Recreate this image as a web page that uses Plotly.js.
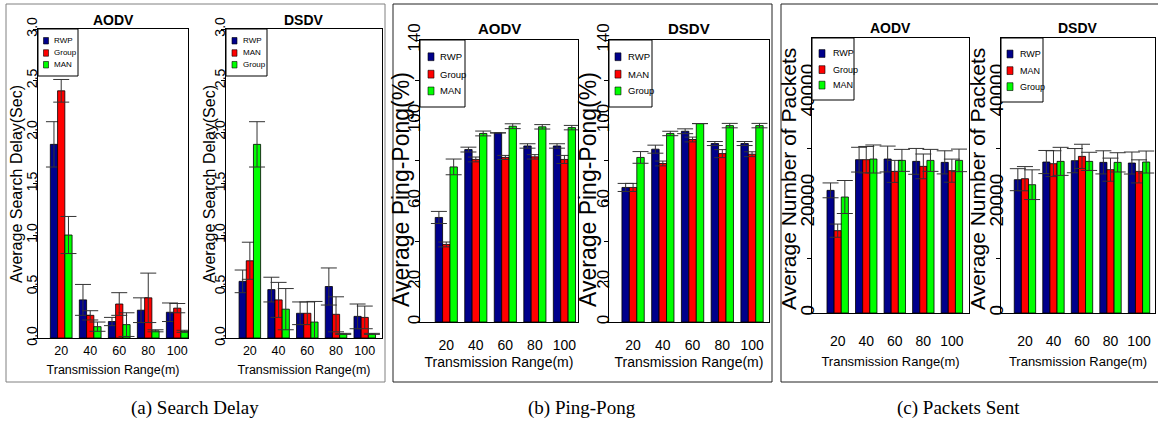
<!DOCTYPE html>
<html><head><meta charset="utf-8">
<script src="https://cdn.plot.ly/plotly-3.0.1.min.js"></script>
<style>html,body{margin:0;padding:0;background:#fff}#chart{width:1158px;height:426px}</style>
</head><body><div id="chart"></div>
<script>
// ---------- data ----------
const ranges = ['20', '40', '60', '80', '100'];
const namesAODV = ['RWP', 'Group', 'MAN'];
const namesDSDV = ['RWP', 'MAN', 'Group'];

// (a) Search delay (Sec)
const delayAodvRWP = [1.88, 0.37, 0.16, 0.27, 0.25];
const delayAodvRWPErr = [0.22, 0.15, 0.04, 0.12, 0.09];
const delayAodvGroup = [2.40, 0.22, 0.33, 0.39, 0.29];
const delayAodvGroupErr = [0.11, 0.045, 0.11, 0.24, 0.045];
const delayAodvMAN = [1.00, 0.11, 0.13, 0.07, 0.065];
const delayAodvMANErr = [0.18, 0.045, 0.115, 0.01, 0.01];
const delayDsdvRWP = [0.55, 0.47, 0.24, 0.50, 0.21];
const delayDsdvRWPErr = [0.11, 0.12, 0.11, 0.18, 0.12];
const delayDsdvMAN = [0.75, 0.37, 0.24, 0.23, 0.20];
const delayDsdvMANErr = [0.18, 0.17, 0.11, 0.17, 0.11];
const delayDsdvGroup = [1.88, 0.28, 0.155, 0.04, 0.04];
const delayDsdvGroupErr = [0.22, 0.20, 0.20, 0.005, 0.005];

// (b) Ping-pong (%)
const pingAodvRWP = [51.9, 85.6, 93.9, 87.4, 87.4];
const pingAodvRWPErr = [3.0, 1.2, 0, 1.1, 1.1];
const pingAodvGroup = [38.5, 80.7, 81.7, 82.0, 80.7];
const pingAodvGroupErr = [1.2, 1.2, 1.0, 1.1, 2.0];
const pingAodvMAN = [77.0, 93.6, 97.2, 96.9, 96.5];
const pingAodvMANErr = [3.9, 1.2, 1.2, 1.1, 1.1];
const pingDsdvRWP = [66.8, 85.8, 94.7, 88.6, 88.6];
const pingDsdvRWPErr = [2.0, 2.0, 1.2, 1.0, 1.0];
const pingDsdvMAN = [66.8, 78.7, 90.6, 83.6, 83.3];
const pingDsdvMANErr = [2.0, 1.2, 1.2, 2.0, 1.2];
const pingDsdvGroup = [81.7, 93.6, 98.5, 97.5, 97.5];
const pingDsdvGroupErr = [2.9, 1.1, 0, 1.1, 1.1];

// (c) Packets sent
const pktAodvRWP = [22300, 27880, 28000, 27570, 27390];
const pktAodvRWPErr = [1350, 2250, 2350, 2350, 2100];
const pktAodvGroup = [14970, 27880, 25750, 26660, 25880];
const pktAodvGroupErr = [1200, 2400, 2000, 2250, 2100];
const pktAodvMAN = [21090, 28000, 27750, 27750, 27750];
const pktAodvMANErr = [3000, 2550, 2000, 2000, 2050];
const pktDsdvRWP = [24240, 27450, 27700, 27390, 27270];
const pktDsdvRWPErr = [2000, 2100, 2200, 2100, 2000];
const pktDsdvMAN = [24420, 27150, 28480, 26060, 25750];
const pktDsdvMANErr = [2200, 2350, 2200, 2100, 2100];
const pktDsdvGroup = [23330, 27570, 27570, 27390, 27450];
const pktDsdvGroupErr = [2700, 2550, 1650, 1750, 2000];

// tick labels
const delayTicks = [0, 0.5, 1, 1.5, 2, 2.5, 3];
const delayTickText = ['0.0', '0.5', '1.0', '1.5', '2.0', '2.5', '3.0'];
const pingTicks = [0, 20, 40, 60, 80, 100, 120, 140];
const pingTickText = ['0', '20', '', '60', '', '100', '', '140'];
const pktTicks = [0, 10000, 20000, 30000, 40000];
const pktTickText = ['0', '', '20000', '', '40000'];

// ---------- styling / layout ----------
const W = 1158, H = 426;
const colors = ['#00008B', '#FF0000', '#00FF00'];
const SANS = 'Liberation Sans, Arial, sans-serif';

const panels = [
  {title: 'AODV', names: namesAODV, vals: [delayAodvRWP, delayAodvGroup, delayAodvMAN], errs: [delayAodvRWPErr, delayAodvGroupErr, delayAodvMANErr],
   box: [38, 29, 188, 338], xr: [-0.8, 4.37], yr: [0, 3], tv: delayTicks, tt: delayTickText, ytitle: 'Average Search Delay(Sec)',
   ytx: 16, yty: 184, ytf: 16, tickf: 14, lshift: 1.5, xtf: 12.5, xtitf: 12.5, xls: 1, xst: 8, titleY: 20, titleF: 14,
   lg: {w: 40, h: 47, sx: 8, tx: 14, f: 8, ss: 5}},
  {title: 'DSDV', names: namesDSDV, vals: [delayDsdvRWP, delayDsdvMAN, delayDsdvGroup], errs: [delayDsdvRWPErr, delayDsdvMANErr, delayDsdvGroupErr],
   box: [226, 29, 382, 338], xr: [-0.83, 4.6], yr: [0, 3], tv: delayTicks, tt: delayTickText, ytitle: 'Average Search Delay(Sec)',
   ytx: 209, yty: 184, ytf: 16, tickf: 14, lshift: 1.5, xtf: 12.5, xtitf: 12.5, xls: 1, xst: 8, titleY: 20, titleF: 14,
   lg: {w: 41, h: 47, sx: 8.5, tx: 15, f: 8, ss: 5}},
  {title: 'AODV', names: namesAODV, vals: [pingAodvRWP, pingAodvGroup, pingAodvMAN], errs: [pingAodvRWPErr, pingAodvGroupErr, pingAodvMANErr],
   box: [420, 40, 578, 322], xr: [-0.89, 4.46], yr: [0, 140], tv: pingTicks, tt: pingTickText, ytitle: 'Average Ping-Pong(%)',
   ytx: 401, yty: 190, ytf: 23, tickf: 17, lshift: 3.5, xtf: 14, xtitf: 14, xls: 10, xst: 5, titleY: 29, titleF: 15,
   lg: {w: 45, h: 67, sx: 11, tx: 18, f: 9.5, ss: 6}},
  {title: 'DSDV', names: namesDSDV, vals: [pingDsdvRWP, pingDsdvMAN, pingDsdvGroup], errs: [pingDsdvRWPErr, pingDsdvMANErr, pingDsdvGroupErr],
   box: [609, 40, 769, 322], xr: [-0.81, 4.57], yr: [0, 140], tv: pingTicks, tt: pingTickText, ytitle: 'Average Ping-Pong(%)',
   ytx: 588, yty: 190, ytf: 23, tickf: 17, lshift: 3.5, xtf: 14, xtitf: 14, xls: 10, xst: 5, titleY: 29, titleF: 15,
   lg: {w: 43, h: 67, sx: 9, tx: 17, f: 9.5, ss: 6}},
  {title: 'AODV', names: namesAODV, vals: [pktAodvRWP, pktAodvGroup, pktAodvMAN], errs: [pktAodvRWPErr, pktAodvGroupErr, pktAodvMANErr],
   box: [812, 38, 969, 313], xr: [-0.9, 4.6], yr: [0, 50000], tv: pktTicks, tt: pktTickText, ytitle: 'Average Number of Packets',
   ytx: 789, yty: 179, ytf: 21, tickf: 19, lshift: 5.5, xtf: 14, xtitf: 13, xls: 15, xst: 9, titleY: 28, titleF: 14,
   lg: {w: 42, h: 62, sx: 10, tx: 19, f: 9, ss: 6}},
  {title: 'DSDV', names: namesDSDV, vals: [pktDsdvRWP, pktDsdvMAN, pktDsdvGroup], errs: [pktDsdvRWPErr, pktDsdvMANErr, pktDsdvGroupErr],
   box: [1001, 38, 1155, 313], xr: [-0.84, 4.56], yr: [0, 50000], tv: pktTicks, tt: pktTickText, ytitle: 'Average Number of Packets',
   ytx: 978, yty: 179, ytf: 21, tickf: 19, lshift: 5.5, xtf: 14, xtitf: 13, xls: 15, xst: 9, titleY: 28, titleF: 14,
   lg: {w: 42, h: 64, sx: 9, tx: 17, f: 9, ss: 6}}
];
const legendRows = [0.25, 0.51, 0.76];

const data = [];
const layout = {
  width: W, height: H,
  margin: {l: 0, r: 0, t: 0, b: 0},
  paper_bgcolor: '#fff', plot_bgcolor: 'rgba(0,0,0,0)',
  barmode: 'group', bargap: 0.25, bargroupgap: 0,
  showlegend: false,
  annotations: [], shapes: []
};

panels.forEach((p, i) => {
  const n = i + 1;
  const sfx = n === 1 ? '' : String(n);
  const lblSfx = String(n + 6);
  for (let s = 0; s < 3; s++) {
    data.push({
      type: 'bar', x: ranges, y: p.vals[s], name: p.names[s],
      xaxis: 'x' + sfx, yaxis: 'y' + sfx, showlegend: false,
      marker: {color: colors[s], line: {color: '#000', width: 0.8}},
      error_y: {type: 'data', array: p.errs[s], visible: true, color: '#333', thickness: 1, width: 8},
      hoverinfo: 'x+y+name'
    });
  }
  // empty trace so that the label-carrying companion axis gets drawn
  data.push({type: 'scatter', mode: 'markers', x: [], y: [], xaxis: 'x' + sfx, yaxis: 'y' + lblSfx,
             showlegend: false, hoverinfo: 'skip'});
  const [l, t, r, b] = p.box;
  layout['xaxis' + sfx] = {
    domain: [l / W, r / W], anchor: 'y' + sfx,
    type: 'category', categoryorder: 'array', categoryarray: ranges,
    range: p.xr, showline: true, mirror: true, linecolor: '#000', linewidth: 1,
    ticks: '', showgrid: false, zeroline: false, fixedrange: true,
    ticklabelstandoff: p.xls,
    tickfont: {family: SANS, size: p.xtf, color: '#000'},
    title: {text: 'Transmission Range(m)', font: {family: SANS, size: p.xtitf, color: '#000'}, standoff: p.xst},
    automargin: false
  };
  // value axis: frame line and outside tick marks
  layout['yaxis' + sfx] = {
    domain: [1 - b / H, 1 - t / H], anchor: 'x' + sfx,
    range: p.yr, tickmode: 'array', tickvals: p.tv,
    ticks: 'outside', ticklen: 4, tickcolor: '#000', tickwidth: 1,
    showticklabels: false,
    showline: true, mirror: true, linecolor: '#000', linewidth: 1,
    showgrid: false, zeroline: false, fixedrange: true,
    automargin: false
  };
  // companion axis carrying the rotated tick labels, set close to the frame as in the reference
  layout['yaxis' + lblSfx] = {
    overlaying: 'y' + sfx, anchor: 'free', position: (l + p.lshift) / W, side: 'left',
    range: p.yr, tickmode: 'array', tickvals: p.tv, ticktext: p.tt,
    tickangle: -90, ticks: '',
    tickfont: {family: SANS, size: p.tickf, color: '#000'},
    showline: false, showgrid: false, zeroline: false, fixedrange: true,
    automargin: false
  };
  // subplot title
  layout.annotations.push({
    text: '<b>' + p.title + '</b>', xref: 'x' + sfx + ' domain', x: 0.5, yref: 'paper', y: 1 - p.titleY / H,
    xanchor: 'center', yanchor: 'middle', showarrow: false,
    font: {family: SANS, size: p.titleF, color: '#000'}
  });
  // y-axis title
  layout.annotations.push({
    text: p.ytitle, xref: 'paper', x: p.ytx / W, yref: 'paper', y: 1 - p.yty / H,
    xanchor: 'center', yanchor: 'middle', textangle: -90, showarrow: false,
    font: {family: SANS, size: p.ytf, color: '#000'}
  });
  // legend (box, swatches, labels) built from the series names and colours
  const g = p.lg;
  layout.shapes.push({
    type: 'rect', xref: 'paper', yref: 'paper',
    x0: l / W, x1: (l + g.w) / W, y0: 1 - (t + g.h) / H, y1: 1 - t / H,
    line: {color: '#000', width: 1}, fillcolor: '#fff', layer: 'above'
  });
  p.names.forEach((nm, s) => {
    const cy = t + g.h * legendRows[s];
    layout.shapes.push({
      type: 'rect', xref: 'paper', yref: 'paper',
      x0: (l + g.sx - g.ss / 2) / W, x1: (l + g.sx + g.ss / 2) / W,
      y0: 1 - (cy + g.ss * 0.65) / H, y1: 1 - (cy - g.ss * 0.65) / H,
      line: {color: '#000', width: 0.6}, fillcolor: colors[s], layer: 'above'
    });
    layout.annotations.push({
      text: nm, xref: 'paper', x: (l + g.tx) / W, yref: 'paper', y: 1 - cy / H,
      xanchor: 'left', yanchor: 'middle', showarrow: false,
      font: {family: SANS, size: g.f, color: '#000'}
    });
  });
});

// panel frames and captions
const frames = [[6, 4, 385, 382, '#808080'], [393, 4, 772, 382, '#222'], [781, 4, 1162, 382, '#222']];
frames.forEach(f => layout.shapes.push({
  type: 'rect', xref: 'paper', yref: 'paper', x0: f[0] / W, x1: f[2] / W, y0: 1 - f[3] / H, y1: 1 - f[1] / H,
  line: {color: f[4], width: 1}, fillcolor: 'rgba(0,0,0,0)', layer: 'below'
}));
const captions = [['(a) Search Delay', 195], ['(b) Ping-Pong', 582], ['(c) Packets Sent', 958]];
captions.forEach(c => layout.annotations.push({
  text: c[0], xref: 'paper', x: c[1] / W, yref: 'paper', y: 1 - 408 / H,
  xanchor: 'center', yanchor: 'middle', showarrow: false,
  font: {family: 'Liberation Serif, DejaVu Serif, serif', size: 19, color: '#000'}
}));

Plotly.newPlot('chart', data, layout, {displayModeBar: false, responsive: false});
</script>
</body></html>
